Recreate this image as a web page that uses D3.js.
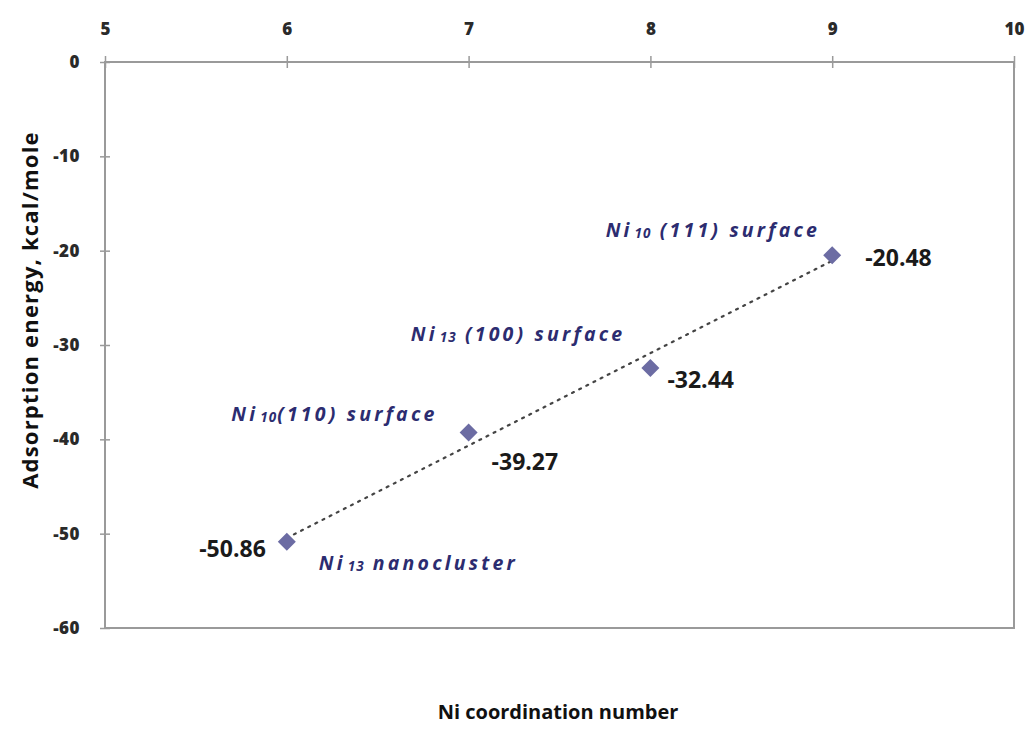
<!DOCTYPE html>
<html>
<head>
<meta charset="utf-8">
<script src="https://cdn.jsdelivr.net/npm/d3@7"></script>
<style>
  html, body { margin: 0; padding: 0; background: #ffffff; }
  svg { display: block; }
  text { font-family: "Open Sans", "Liberation Sans", sans-serif; }
</style>
</head>
<body>
<svg id="chart" width="1030" height="733"></svg>
<script>
// Ni coordination number vs adsorption energy
const coordination = [6, 7, 8, 9];
const energy = [-50.86, -39.27, -32.44, -20.48];
const siteBase = ["Ni", "Ni", "Ni", "Ni"];
const siteSub = ["13", "10", "13", "10"];
const siteRest = [" nanocluster", "(110) surface", " (100) surface", " (111) surface"];
const xTicks = [5, 6, 7, 8, 9, 10];
const yTicks = [0, -10, -20, -30, -40, -50, -60];
const xTitle = "Ni coordination number";
const yTitle = "Adsorption energy, kcal/mole";

// label placement around each marker: [value dx, value dy, value anchor, name dx, name dy, name anchor]
const labelPlacement = [
  [-21, 15, "end", 32, 28, "start"],
  [23, 38, "start", -31, -11, "end"],
  [17, 20, "start", -25, -27, "end"],
  [33, 11, "start", -12, -18, "end"]
];

const svg = d3.select("#chart");
const frame = { left: 105, right: 1014, top: 62, bottom: 628 };

const x = d3.scaleLinear().domain([5, 10]).range([frame.left, frame.right]);
const y = d3.scaleLinear().domain([-60, 0]).range([frame.bottom, frame.top]);

const axisColor = "#9a9a9a";
const fmt = d => String(d);

// plot frame
svg.append("rect")
  .attr("x", frame.left).attr("y", frame.top)
  .attr("width", frame.right - frame.left).attr("height", frame.bottom - frame.top)
  .attr("fill", "none").attr("stroke", axisColor).attr("stroke-width", 2);

// top x axis
const gx = svg.append("g")
  .attr("transform", `translate(0,${frame.top})`)
  .call(d3.axisTop(x).tickValues(xTicks).tickFormat(fmt).tickSize(6).tickPadding(21));
gx.select(".domain").remove();
gx.selectAll(".tick line").attr("y1", -6).attr("y2", 6).attr("stroke", axisColor).attr("stroke-width", 1.5);
gx.selectAll(".tick text")
  .style("fill", "#2a2a2a").style("font-size", "17px").style("font-weight", "800")
  .style("font-family", "'Open Sans', sans-serif");

// left y axis
const gy = svg.append("g")
  .attr("transform", `translate(${frame.left},0)`)
  .call(d3.axisLeft(y).tickValues(yTicks).tickFormat(fmt).tickSize(5).tickPadding(20));
gy.select(".domain").remove();
gy.selectAll(".tick line").attr("x1", -5).attr("x2", 5).attr("stroke", axisColor).attr("stroke-width", 1.5);
gy.selectAll(".tick text")
  .style("fill", "#2a2a2a").style("font-size", "17px").style("font-weight", "800")
  .style("letter-spacing", "0.5px")
  .style("font-family", "'Open Sans', sans-serif");

// linear trend line fitted to the points
const mx = d3.mean(coordination), my = d3.mean(energy);
const slope = d3.sum(coordination, (c, i) => (c - mx) * (energy[i] - my)) /
              d3.sum(coordination, c => (c - mx) * (c - mx));
const intercept = my - slope * mx;
const x0 = d3.min(coordination), x1 = d3.max(coordination);
svg.append("line")
  .attr("x1", x(x0)).attr("y1", y(intercept + slope * x0))
  .attr("x2", x(x1)).attr("y2", y(intercept + slope * x1))
  .attr("stroke", "#444").attr("stroke-width", 2.2)
  .attr("stroke-dasharray", "2,6").attr("stroke-linecap", "round");

// diamond markers
const diamond = "M0,-9L9,0L0,9L-9,0Z";
svg.append("g").selectAll("path")
  .data(coordination)
  .join("path")
  .attr("d", diamond)
  .attr("transform", (c, i) => `translate(${x(c)},${y(energy[i])})`)
  .attr("fill", "#6c6ca3");

// value labels
svg.append("g").selectAll("text")
  .data(coordination)
  .join("text")
  .attr("x", (c, i) => x(c) + labelPlacement[i][0])
  .attr("y", (c, i) => y(energy[i]) + labelPlacement[i][1])
  .attr("text-anchor", (c, i) => labelPlacement[i][2])
  .style("font-size", "23px").style("font-weight", "700").style("fill", "#1a1a1a")
  .text((c, i) => energy[i].toFixed(2));

// site name labels
const names = svg.append("g").selectAll("text")
  .data(coordination)
  .join("text")
  .attr("x", (c, i) => x(c) + labelPlacement[i][3])
  .attr("y", (c, i) => y(energy[i]) + labelPlacement[i][4])
  .attr("text-anchor", (c, i) => labelPlacement[i][5])
  .style("font-size", "19.5px").style("font-weight", "700").style("font-style", "italic")
  .style("letter-spacing", "3.2px")
  .style("fill", "#2c2c70");
names.append("tspan").text((c, i) => siteBase[i]);
names.append("tspan").style("font-size", "13.5px").style("letter-spacing", "1px")
  .attr("dx", 2).attr("dy", 1).text((c, i) => siteSub[i]);
names.append("tspan").attr("dy", -1).text((c, i) => siteRest[i]);

// axis titles
svg.append("text")
  .attr("x", 558).attr("y", 719)
  .attr("text-anchor", "middle")
  .style("font-size", "20px").style("font-weight", "700").style("fill", "#111")
  .text(xTitle);

svg.append("text")
  .attr("transform", "translate(38,310) rotate(-90)")
  .attr("text-anchor", "middle")
  .style("font-size", "22px").style("font-weight", "700").style("fill", "#111")
  .style("letter-spacing", "1.2px")
  .text(yTitle);
</script>
</body>
</html>
